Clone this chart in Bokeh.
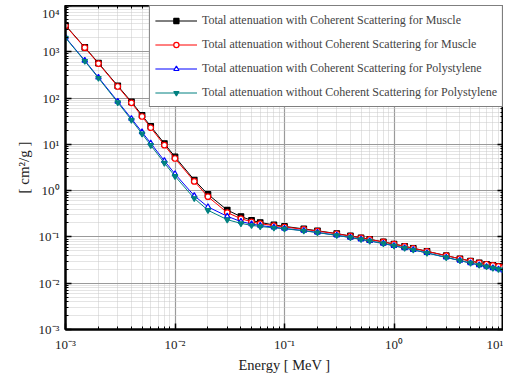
from bokeh.plotting import figure
from bokeh.models import LogAxis, FixedTicker, CustomJSTickFormatter, Range1d
from bokeh.embed import file_html
from bokeh.resources import INLINE

# ---- data ----
energy = [1e-3, 1.5e-3, 2e-3, 3e-3, 4e-3, 5e-3, 6e-3, 8e-3, 1e-2, 1.5e-2, 2e-2,
          3e-2, 4e-2, 5e-2, 6e-2, 8e-2, 0.1, 0.15, 0.2, 0.3, 0.4, 0.5, 0.6, 0.8,
          1.0, 1.25, 1.5, 2.0, 3.0, 4.0, 5.0, 6.0, 7.0, 8.0, 9.0, 10.0]

muscle_coh = [3719, 1251, 571.4, 184, 83, 42.5, 24.5, 10.4, 5.36, 1.70, 0.83,
              0.380, 0.275, 0.228, 0.205, 0.182, 0.169, 0.149, 0.136, 0.118,
              0.105, 0.096, 0.0887, 0.078, 0.0701, 0.0627, 0.057, 0.049,
              0.0394, 0.0338, 0.0302, 0.0276, 0.0257, 0.0243, 0.0231, 0.0222]

muscle_nocoh = [3650, 1225, 556, 178, 79, 40.0, 22.9, 9.6, 4.95, 1.58, 0.74,
                0.336, 0.248, 0.212, 0.193, 0.175, 0.164, 0.146, 0.134, 0.117,
                0.104, 0.0956, 0.0884, 0.0778, 0.0700, 0.0626, 0.0569, 0.0489,
                0.0393, 0.0338, 0.0302, 0.0276, 0.0257, 0.0243, 0.0231, 0.0222]

poly_coh = [2042, 646.9, 279.4, 84.55, 35.98, 18.40, 10.62, 4.408, 2.293,
            0.774, 0.445, 0.279, 0.215, 0.190, 0.176, 0.162, 0.1524, 0.1368,
            0.1250, 0.1085, 0.09714, 0.08866, 0.08195, 0.07194, 0.06466,
            0.05778, 0.05259, 0.04516, 0.03617, 0.03087, 0.02731, 0.02476,
            0.0228, 0.02132, 0.0201, 0.01910]

poly_nocoh = [2000, 630, 270, 80.5, 33.6, 16.9, 9.6, 3.95, 2.05, 0.68, 0.377,
              0.236, 0.196, 0.178, 0.168, 0.157, 0.150, 0.1355, 0.124, 0.108,
              0.0969, 0.0885, 0.0818, 0.0719, 0.0646, 0.0577, 0.0526, 0.0451,
              0.0361, 0.0308, 0.0273, 0.0247, 0.0228, 0.0213, 0.0201, 0.0191]

labels = ["Total attenuation with Coherent Scattering for Muscle",
          "Total attenuation without Coherent Scattering for Muscle",
          "Total attenuation with Coherent Scattering for Polystylene",
          "Total attenuation without Coherent Scattering for Polystylene"]

x_title = "Energy [ MeV ]"
y_title = "[ cm\u00b2/g ]"

x_major = [1e-3, 1e-2, 1e-1, 1e0, 1e1]
y_major = [1e-3, 1e-2, 1e-1, 1e0, 1e1, 1e2, 1e3, 1e4]
x_minor = [m * d for d in x_major[:-1] for m in range(2, 10)]
y_minor = [m * d for d in y_major[:-1] for m in range(2, 10)]

FONT = "Liberation Serif"

p = figure(width=491, height=370, x_axis_type="log", y_axis_type="log",
           x_range=Range1d(1e-3, 1e1), y_range=Range1d(1e-3, 1e4),
           output_backend="svg", toolbar_location=None, min_border=0)
p.margin = (5, 0, -8, 12)

p.background_fill_color = "white"
p.border_fill_color = "white"
p.outline_line_color = "black"
p.outline_line_width = 2

fmt = CustomJSTickFormatter(code="""
const sup = {"-":"\u207b","0":"\u2070","1":"\u00b9","2":"\u00b2","3":"\u00b3","4":"\u2074"};
const e = Math.round(Math.log10(tick));
return "10" + String(e).split("").map(c => sup[c]).join("");
""")
blank = CustomJSTickFormatter(code="return '';")

xt = FixedTicker(ticks=x_major, minor_ticks=x_minor)
yt = FixedTicker(ticks=y_major, minor_ticks=y_minor)

def style_axis(ax, ticker, formatter):
    ax.ticker = ticker
    ax.formatter = formatter
    ax.axis_line_width = 2
    ax.axis_line_color = "black"
    ax.major_tick_in = 6
    ax.major_tick_out = 0
    ax.minor_tick_in = 3
    ax.minor_tick_out = 0
    ax.major_tick_line_width = 1.5
    ax.major_label_text_font = FONT
    ax.major_label_text_font_size = "13px"
    ax.major_label_text_color = "#222222"
    ax.axis_label_text_font = FONT
    ax.axis_label_text_font_style = "normal"
    ax.axis_label_text_font_size = "15px"
    ax.axis_label_text_color = "#222222"

style_axis(p.xaxis[0], xt, fmt)
style_axis(p.yaxis[0], yt, fmt)
p.xaxis[0].axis_label = x_title
p.xaxis[0].axis_label_text_font_size = "14.5px"
p.xaxis[0].major_label_standoff = 7
p.xaxis[0].axis_label_standoff = 2
p.yaxis[0].axis_label = y_title
p.yaxis[0].major_label_standoff = 6
p.yaxis[0].axis_label_standoff = 4

top = LogAxis()
right = LogAxis()
style_axis(top, xt, blank)
style_axis(right, yt, blank)
top.major_label_text_font_size = "1px"
right.major_label_text_font_size = "1px"
top.major_label_standoff = 0
right.major_label_standoff = 0
p.add_layout(top, "above")
p.add_layout(right, "right")

for g in (p.xgrid[0], p.ygrid[0]):
    g.grid_line_color = "#9a9a9a"
    g.grid_line_width = 1.2
    g.minor_grid_line_color = "#c8c8c8"
    g.minor_grid_line_dash = "1 1"
    g.minor_grid_line_width = 1

series = [
    (muscle_coh, "black", "square", "black"),
    (muscle_nocoh, "red", "circle", "white"),
    (poly_coh, "blue", "triangle", "white"),
    (poly_nocoh, "#008080", "inverted_triangle", "#008080"),
]
for (vals, col, mk, fill), lab in zip(series, labels):
    p.line(energy, vals, line_color=col, line_width=1, legend_label=lab)
    p.scatter(energy, vals, marker=mk, size=5.5, line_color=col, fill_color=fill,
              line_width=1.2, legend_label=lab)

leg = p.legend[0]
leg.location = "top_right"
leg.margin = 0
leg.border_line_color = "black"
leg.border_line_width = 1
leg.background_fill_color = "white"
leg.background_fill_alpha = 1
leg.label_text_font = FONT
leg.label_text_font_size = "12px"
leg.glyph_width = 42
leg.glyph_height = 13
leg.label_height = 18
leg.label_standoff = 5
leg.padding = 5
leg.spacing = 6

open("out.html", "w").write(file_html(p, INLINE))
